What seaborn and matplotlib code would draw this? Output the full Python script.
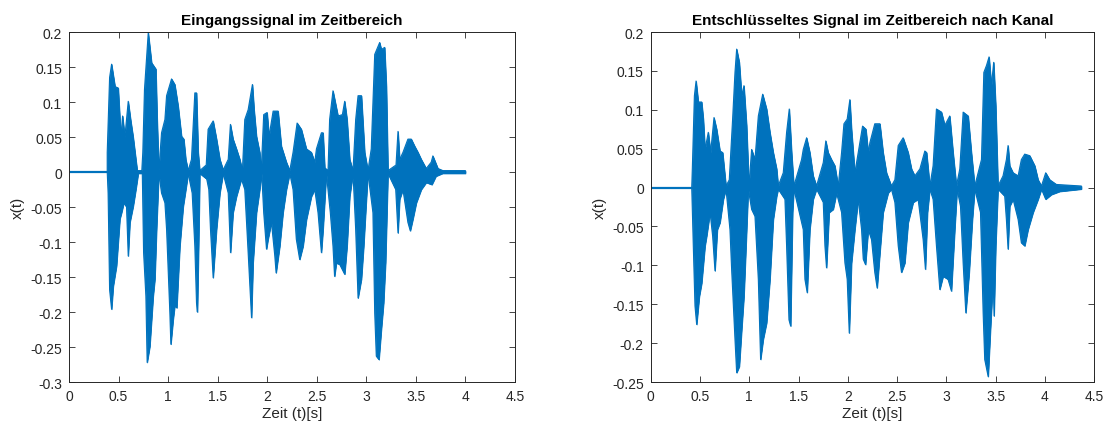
import numpy as np
import pandas as pd
import matplotlib
matplotlib.use("Agg")
import matplotlib.pyplot as plt
import seaborn as sns

# ---------------- data (envelope) ----------------
titles = ["Eingangssignal im Zeitbereich",
          "Entschlüsseltes Signal im Zeitbereich nach Kanal"]
xlabel = "Zeit (t)[s]"
ylabel = "x(t)"

x_ticks = [0, 0.5, 1, 1.5, 2, 2.5, 3, 3.5, 4, 4.5]
x_ticklabels = ["0", "0.5", "1", "1.5", "2", "2.5", "3", "3.5", "4", "4.5"]
left_yticks = [-0.3, -0.25, -0.2, -0.15, -0.1, -0.05, 0, 0.05, 0.1, 0.15, 0.2]
left_yticklabels = ["-0.3", "-0.25", "-0.2", "-0.15", "-0.1", "-0.05", "0",
                    "0.05", "0.1", "0.15", "0.2"]
right_yticks = [-0.25, -0.2, -0.15, -0.1, -0.05, 0, 0.05, 0.1, 0.15, 0.2]
right_yticklabels = ["-0.25", "-0.2", "-0.15", "-0.1", "-0.05", "0",
                     "0.05", "0.1", "0.15", "0.2"]

# Left panel: upper envelope
L_up_t = [0.386, 0.386, 0.41, 0.43, 0.465, 0.497, 0.507, 0.524, 0.541, 0.564, 0.598, 0.622,
          0.648, 0.689, 0.735, 0.745, 0.762, 0.800, 0.834, 0.877, 0.890, 0.907, 0.934, 0.968,
          0.985, 1.035, 1.068, 1.102, 1.136, 1.159, 1.179, 1.203, 1.236, 1.270, 1.287, 1.304,
          1.320, 1.385, 1.404, 1.455, 1.489, 1.523, 1.556, 1.607, 1.629, 1.656, 1.690, 1.724,
          1.750, 1.774, 1.808, 1.851, 1.868, 1.892, 1.925, 1.940, 1.965, 1.999, 2.019, 2.060,
          2.110, 2.143, 2.194, 2.228, 2.261, 2.302, 2.345, 2.396, 2.446, 2.480, 2.497, 2.547,
          2.564, 2.581, 2.614, 2.630, 2.664, 2.715, 2.759, 2.782, 2.806, 2.833, 2.866, 2.893,
          2.917, 2.951, 2.984, 3.017, 3.050, 3.085, 3.135, 3.152, 3.185, 3.203, 3.219, 3.300,
          3.320, 3.337, 3.370, 3.420, 3.454, 3.488, 3.522, 3.555, 3.605, 3.655, 3.672, 3.723,
          3.773, 4.0]
L_up_v = [0.0, 0.028, 0.135, 0.154, 0.122, 0.12, 0.094, 0.051, 0.080, 0.050, 0.101, 0.075,
          0.050, 0.002, 0.002, 0.028, 0.118, 0.199, 0.156, 0.147, 0.075, 0.002, 0.056, 0.075,
          0.109, 0.133, 0.125, 0.094, 0.051, 0.047, 0.018, 0.002, 0.018, 0.113, 0.113, 0.028,
          0.002, 0.010, 0.061, 0.073, 0.047, 0.018, 0.003, 0.018, 0.068, 0.047, 0.033, 0.018,
          0.002, 0.075, 0.089, 0.125, 0.089, 0.051, 0.028, 0.002, 0.082, 0.085, 0.051, 0.087,
          0.087, 0.037, 0.014, 0.002, 0.028, 0.070, 0.061, 0.033, 0.028, 0.014, 0.033, 0.056,
          0.056, 0.006, 0.002, 0.075, 0.116, 0.080, 0.082, 0.101, 0.075, 0.018, 0.002, 0.075,
          0.109, 0.109, 0.028, 0.002, 0.033, 0.168, 0.185, 0.175, 0.178, 0.122, 0.002, 0.010,
          0.058, 0.018, 0.028, 0.047, 0.047, 0.037, 0.028, 0.018, 0.005, 0.014, 0.023, 0.005,
          0.002, 0.002]
# Left panel: lower envelope
L_lo_t = [0.386, 0.395, 0.41, 0.43, 0.447, 0.480, 0.514, 0.531, 0.554, 0.581, 0.598, 0.615,
          0.648, 0.675, 0.699, 0.740, 0.753, 0.776, 0.789, 0.816, 0.850, 0.867, 0.884, 0.907,
          0.934, 0.968, 0.985, 1.018, 1.028, 1.052, 1.068, 1.088, 1.119, 1.153, 1.179, 1.203,
          1.243, 1.270, 1.287, 1.296, 1.314, 1.320, 1.39, 1.411, 1.428, 1.455, 1.489, 1.523,
          1.556, 1.607, 1.630, 1.656, 1.690, 1.740, 1.774, 1.808, 1.842, 1.858, 1.892, 1.925,
          1.945, 1.965, 1.993, 2.009, 2.043, 2.077, 2.090, 2.127, 2.160, 2.194, 2.228, 2.261,
          2.294, 2.328, 2.362, 2.396, 2.446, 2.480, 2.513, 2.547, 2.564, 2.597, 2.637, 2.664,
          2.680, 2.698, 2.732, 2.782, 2.806, 2.833, 2.866, 2.893, 2.917, 2.951, 2.974, 3.001,
          3.017, 3.067, 3.085, 3.101, 3.128, 3.152, 3.175, 3.195, 3.219, 3.297, 3.320, 3.337,
          3.370, 3.420, 3.444, 3.471, 3.505, 3.555, 3.605, 3.662, 3.703, 3.77, 4.0]
L_lo_v = [0.0, -0.03, -0.168, -0.196, -0.163, -0.134, -0.067, -0.058, -0.044, -0.05, -0.12, -0.072,
          -0.049, -0.025, -0.002, -0.002, -0.115, -0.177, -0.272, -0.249, -0.177, -0.153, -0.082, -0.002,
          -0.030, -0.044, -0.082, -0.201, -0.246, -0.21, -0.191, -0.194, -0.106, -0.049, -0.025, -0.002,
          -0.03, -0.106, -0.187, -0.200, -0.058, -0.002, -0.01, -0.025, -0.082, -0.151, -0.082, -0.030,
          -0.002, -0.03, -0.115, -0.058, -0.035, -0.01, -0.025, -0.115, -0.208, -0.129, -0.058, -0.025,
          -0.002, -0.058, -0.110, -0.096, -0.072, -0.120, -0.144, -0.106, -0.058, -0.025, -0.002, -0.025,
          -0.096, -0.125, -0.106, -0.068, -0.035, -0.025, -0.058, -0.115, -0.082, -0.002, -0.058, -0.106,
          -0.149, -0.130, -0.132, -0.146, -0.106, -0.035, -0.002, -0.082, -0.180, -0.153, -0.106, -0.039,
          -0.002, -0.058, -0.201, -0.263, -0.268, -0.225, -0.187, -0.129, -0.002, -0.025, -0.087, -0.039,
          -0.025, -0.072, -0.084, -0.067, -0.044, -0.025, -0.015, -0.018, -0.006, -0.002, -0.002]

# Right panel: upper envelope
R_up_t = [0.416, 0.422, 0.443, 0.460, 0.483, 0.517, 0.534, 0.551, 0.584, 0.608, 0.642, 0.669,
          0.703, 0.730, 0.764, 0.797, 0.831, 0.855, 0.872, 0.899, 0.923, 0.946, 0.973, 0.997,
          1.024, 1.058, 1.092, 1.136, 1.176, 1.210, 1.244, 1.278, 1.294, 1.345, 1.379, 1.406,
          1.430, 1.453, 1.531, 1.548, 1.582, 1.615, 1.649, 1.683, 1.751, 1.777, 1.801, 1.835,
          1.869, 1.903, 1.937, 1.961, 1.994, 2.021, 2.038, 2.072, 2.106, 2.150, 2.184, 2.208,
          2.225, 2.274, 2.326, 2.359, 2.393, 2.443, 2.478, 2.512, 2.562, 2.613, 2.647, 2.681,
          2.732, 2.782, 2.800, 2.833, 2.866, 2.900, 2.951, 2.985, 3.035, 3.069, 3.103, 3.137,
          3.171, 3.222, 3.255, 3.289, 3.357, 3.381, 3.408, 3.434, 3.458, 3.481, 3.502, 3.525,
          3.576, 3.610, 3.627, 3.644, 3.678, 3.729, 3.762, 3.796, 3.847, 3.898, 3.932, 3.966,
          4.009, 4.050, 4.117, 4.371]
R_up_v = [0.0, 0.024, 0.118, 0.137, 0.110, 0.110, 0.088, 0.049, 0.071, 0.045, 0.090, 0.075,
          0.047, 0.045, 0.002, 0.010, 0.088, 0.148, 0.178, 0.161, 0.118, 0.131, 0.080, 0.002,
          0.049, 0.036, 0.092, 0.120, 0.101, 0.071, 0.045, 0.024, 0.002, 0.019, 0.071, 0.101,
          0.045, 0.002, 0.036, 0.049, 0.064, 0.045, 0.015, 0.002, 0.032, 0.060, 0.045, 0.036,
          0.028, 0.002, 0.045, 0.082, 0.088, 0.113, 0.075, 0.019, 0.045, 0.079, 0.075, 0.045,
          0.058, 0.082, 0.082, 0.045, 0.019, 0.002, 0.010, 0.054, 0.064, 0.045, 0.024, 0.015,
          0.024, 0.047, 0.045, 0.002, 0.028, 0.101, 0.097, 0.080, 0.092, 0.045, 0.002, 0.024,
          0.097, 0.092, 0.045, 0.002, 0.036, 0.148, 0.157, 0.168, 0.131, 0.161, 0.105, 0.002,
          0.015, 0.036, 0.054, 0.028, 0.019, 0.015, 0.036, 0.043, 0.041, 0.028, 0.010, 0.002,
          0.019, 0.010, 0.004, 0.002]
# Right panel: lower envelope
R_lo_t = [0.416, 0.432, 0.449, 0.466, 0.493, 0.517, 0.551, 0.568, 0.602, 0.628, 0.652, 0.676,
          0.703, 0.737, 0.764, 0.804, 0.821, 0.855, 0.872, 0.899, 0.923, 0.946, 0.967, 0.990,
          1.024, 1.058, 1.092, 1.115, 1.142, 1.176, 1.210, 1.244, 1.278, 1.294, 1.362, 1.379,
          1.403, 1.420, 1.440, 1.453, 1.548, 1.565, 1.588, 1.615, 1.649, 1.683, 1.751, 1.768,
          1.784, 1.811, 1.852, 1.886, 1.937, 1.971, 1.994, 2.015, 2.038, 2.072, 2.106, 2.140,
          2.157, 2.180, 2.208, 2.241, 2.274, 2.298, 2.326, 2.359, 2.410, 2.443, 2.478, 2.512,
          2.545, 2.579, 2.613, 2.664, 2.714, 2.765, 2.788, 2.809, 2.833, 2.866, 2.900, 2.934,
          2.968, 3.018, 3.052, 3.086, 3.110, 3.144, 3.171, 3.198, 3.232, 3.265, 3.289, 3.347,
          3.374, 3.390, 3.425, 3.448, 3.475, 3.485, 3.502, 3.525, 3.593, 3.610, 3.627, 3.644,
          3.678, 3.729, 3.762, 3.796, 3.830, 3.881, 3.932, 3.966, 4.009, 4.067, 4.151, 4.371]
R_lo_v = [0.0, -0.075, -0.152, -0.176, -0.140, -0.123, -0.075, -0.062, -0.032, -0.062, -0.107, -0.054,
          -0.045, -0.015, -0.002, -0.054, -0.105, -0.195, -0.238, -0.230, -0.183, -0.140, -0.075, -0.002,
          -0.028, -0.037, -0.118, -0.221, -0.195, -0.174, -0.118, -0.041, -0.011, -0.002, -0.015, -0.075,
          -0.170, -0.178, -0.032, -0.002, -0.054, -0.118, -0.135, -0.054, -0.015, -0.002, -0.019, -0.075,
          -0.103, -0.032, -0.028, -0.007, -0.032, -0.097, -0.118, -0.187, -0.097, -0.054, -0.015, -0.054,
          -0.092, -0.099, -0.054, -0.067, -0.109, -0.129, -0.084, -0.032, -0.007, -0.002, -0.019, -0.075,
          -0.109, -0.097, -0.045, -0.019, -0.015, -0.067, -0.105, -0.032, -0.002, -0.015, -0.075, -0.131,
          -0.114, -0.118, -0.133, -0.054, -0.002, -0.024, -0.097, -0.161, -0.110, -0.041, -0.002, -0.032,
          -0.161, -0.221, -0.243, -0.183, -0.118, -0.165, -0.075, -0.002, -0.011, -0.041, -0.079, -0.024,
          -0.015, -0.041, -0.071, -0.075, -0.054, -0.032, -0.015, -0.002, -0.015, -0.009, -0.005, -0.002]

# baseline extents (quiet-signal line along zero)
L_base_t = [0.0, 4.0]
R_base_t = [0.0, 4.37]
base_v = [0.0, 0.0]

# ---------------- style ----------------
sns.set_style("white")
plt.rcParams["font.family"] = ["Liberation Sans", "DejaVu Sans"]
COL = "#0072BD"
TXT = "#262626"

fig = plt.figure(figsize=(11.05, 4.27), dpi=100)
ax1 = fig.add_axes([0.0624, 0.103, 0.4036, 0.8197])
ax2 = fig.add_axes([0.5889, 0.103, 0.4012, 0.8197])

panels = [
    (ax1, L_up_t, L_up_v, L_lo_t, L_lo_v, L_base_t, (-0.3, 0.2), left_yticks, left_yticklabels),
    (ax2, R_up_t, R_up_v, R_lo_t, R_lo_v, R_base_t, (-0.25, 0.2), right_yticks, right_yticklabels),
]

for i, (ax, ut, uv, lt, lv, bt, ylim, yt, ytl) in enumerate(panels):
    ax.fill_between(ut, 0, uv, color=COL, linewidth=0.6, edgecolor=COL)
    ax.fill_between(lt, lv, 0, color=COL, linewidth=0.6, edgecolor=COL)
    sns.lineplot(x=ut, y=uv, ax=ax, color=COL, linewidth=0.8, sort=False, estimator=None)
    sns.lineplot(x=lt, y=lv, ax=ax, color=COL, linewidth=0.8, sort=False, estimator=None)
    sns.lineplot(x=bt, y=base_v, ax=ax, color=COL, linewidth=1.6, sort=False, estimator=None)

    ax.set_xlim(0, 4.5)
    ax.set_ylim(*ylim)
    ax.set_xticks(x_ticks)
    ax.set_xticklabels(x_ticklabels)
    ax.set_yticks(yt)
    ax.set_yticklabels(ytl)
    ax.tick_params(direction="in", length=4, width=0.6, colors=TXT, labelsize=10,
                   top=True, right=True, bottom=True, left=True, pad=5)
    for s in ax.spines.values():
        s.set_visible(True)
        s.set_color(TXT)
        s.set_linewidth(0.7)
    ax.set_title(titles[i], fontsize=11, fontweight="bold", color="black", pad=6)
    ax.set_xlabel(xlabel, fontsize=11, color=TXT, labelpad=2)
    ax.set_ylabel(ylabel, fontsize=11, color=TXT, labelpad=4)
    ax.grid(False)

fig.savefig("out.png", dpi=100)
